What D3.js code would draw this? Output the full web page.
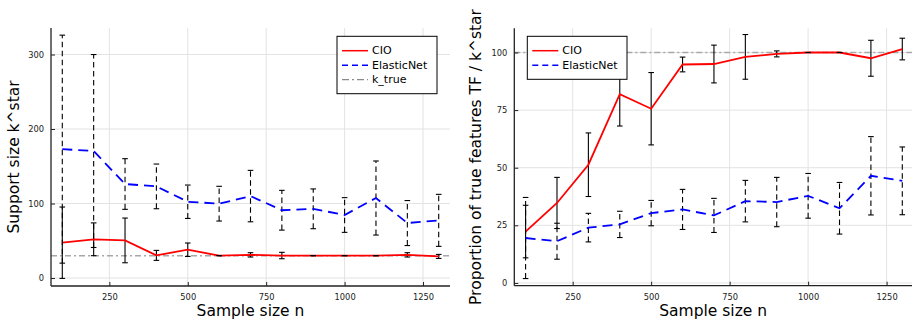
<!DOCTYPE html>
<html>
<head>
<meta charset="utf-8">
<script src="https://cdn.jsdelivr.net/npm/d3@7"></script>
<style>
  body { margin: 0; background: #fff; }
  svg { display: block; font-family: "DejaVu Sans", sans-serif; }
</style>
</head>
<body>
<svg id="chart" width="912" height="323"></svg>
<script>
// ---- data ----
const sampleSizes = [100, 200, 300, 400, 500, 600, 700, 800, 900, 1000, 1100, 1200, 1300];

const supportCIO    = [47.4, 52, 50.5, 30.4, 38, 30, 31.1, 30.2, 30, 30, 30, 31.1, 29];
const supportCIOErr = [47.9, 22, 30, 6.7, 9, 0, 2.9, 4.3, 0, 0, 0, 2.9, 2.7];
const supportEN     = [173, 170.5, 126.2, 123, 102.4, 99.8, 110, 91, 92.9, 84.6, 107.4, 73.8, 77.4];
const supportENErr  = [153, 129.5, 34, 30, 22.4, 23.3, 34.5, 26.7, 26.7, 23.3, 49.7, 30.2, 34.9];
const kTrue = 30;

const propCIO    = [22.3, 34.7, 51.3, 81.9, 75.6, 94.8, 95, 98.1, 99.4, 100, 100, 97.5, 101.5];
const propCIOErr = [11.4, 11.1, 13.8, 13.8, 15.7, 3.2, 8.2, 9.7, 1.3, 0, 0, 7.8, 4.7];
const propEN     = [19.5, 18.1, 24, 25.4, 30.3, 31.9, 29.3, 35.5, 35.1, 37.8, 32.4, 46.5, 44.3];
const propENErr  = [17.6, 7.8, 6.2, 5.7, 5.5, 8.7, 7.4, 9, 10.7, 9.7, 11.2, 17, 14.7];
const propTrue = 100;

const xTicks = [250, 500, 750, 1000, 1250];
const supportYTicks = [0, 100, 200, 300];
const propYTicks = [0, 25, 50, 75, 100];

const xLabel = "Sample size n";
const supportYLabel = "Support size k^star";
const propYLabel = "Proportion of true features TF / k^star";

// ---- drawing ----
const svg = d3.select("#chart");
const fmt = d3.format("d");

function drawPanel(cfg) {
  const x = d3.scaleLinear().domain([64, 1336]).range(cfg.xRange);
  const y = d3.scaleLinear().domain(cfg.yDomain).range(cfg.yRange);
  const g = svg.append("g");
  const [x0, x1] = cfg.xRange;
  const [yb, yt] = cfg.yRange;

  // grid
  g.selectAll(".gx").data(xTicks).join("line")
    .attr("x1", d => x(d)).attr("x2", d => x(d)).attr("y1", yb).attr("y2", yt)
    .attr("stroke", "#e3e3e3").attr("stroke-width", 1);
  g.selectAll(".gy").data(cfg.yTicks).join("line")
    .attr("x1", x0).attr("x2", x1).attr("y1", d => y(d)).attr("y2", d => y(d))
    .attr("stroke", "#e3e3e3").attr("stroke-width", 1);

  // reference line
  g.append("line")
    .attr("x1", x0).attr("x2", x1).attr("y1", y(cfg.ref)).attr("y2", y(cfg.ref))
    .attr("stroke", "#a8a8a8").attr("stroke-width", 1.5)
    .attr("stroke-dasharray", "6,3,2,3");

  const line = d3.line().x((d, i) => x(sampleSizes[i])).y(d => y(d));

  cfg.series.forEach(s => {
    // error bars
    const eb = g.append("g");
    eb.selectAll("line").data(s.values).join("line")
      .attr("x1", (d, i) => x(sampleSizes[i])).attr("x2", (d, i) => x(sampleSizes[i]))
      .attr("y1", (d, i) => y(d - s.err[i])).attr("y2", (d, i) => y(d + s.err[i]))
      .attr("stroke", "#000").attr("stroke-width", 1.1)
      .attr("stroke-dasharray", s.dash ? "5.5,3.5" : null);
    // main line
    g.append("path").datum(s.values)
      .attr("d", line).attr("fill", "none")
      .attr("stroke", s.color).attr("stroke-width", 1.8)
      .attr("stroke-dasharray", s.dash ? "10,6" : null);
    // caps
    const caps = [];
    s.values.forEach((d, i) => {
      caps.push({ n: sampleSizes[i], v: d - s.err[i] });
      caps.push({ n: sampleSizes[i], v: d + s.err[i] });
    });
    g.append("g").selectAll("line").data(caps).join("line")
      .attr("x1", d => x(d.n) - 2.8).attr("x2", d => x(d.n) + 2.8)
      .attr("y1", d => y(d.v)).attr("y2", d => y(d.v))
      .attr("stroke", "#000").attr("stroke-width", 1.1);
  });

  // axes
  const ax = g.append("g").attr("transform", `translate(0,${yb})`)
    .call(d3.axisBottom(x).tickValues(xTicks).tickFormat(fmt).tickSizeInner(-4).tickSizeOuter(0).tickPadding(8));
  const ay = g.append("g").attr("transform", `translate(${x0},0)`)
    .call(d3.axisLeft(y).tickValues(cfg.yTicks).tickFormat(fmt).tickSizeInner(-4).tickSizeOuter(0).tickPadding(7));
  [ax, ay].forEach(a => {
    a.select(".domain").attr("stroke", "#222").attr("stroke-width", 1.3);
    a.selectAll(".tick line").attr("stroke", "#222").attr("stroke-width", 1);
    a.selectAll(".tick text").attr("font-size", "8.3px").attr("fill", "#222")
      .attr("font-family", "DejaVu Sans");
  });
  ax.select(".domain").attr("d", `M${x0},0H${x1}`);
  ay.select(".domain").attr("d", `M0,${yb}V${yt}`);

  // axis labels
  g.append("text").attr("x", (x0 + Math.min(x1, 912)) / 2).attr("y", 316)
    .attr("text-anchor", "middle").attr("font-size", "15.5px").attr("fill", "#000")
    .text(xLabel);
  g.append("text")
    .attr("transform", `translate(${cfg.yLabelX},157) rotate(-90)`)
    .attr("text-anchor", "middle").attr("dominant-baseline", "central")
    .attr("font-size", "15.5px").attr("fill", "#000")
    .text(cfg.yLabel);

  // legend
  const L = cfg.legend;
  const lg = g.append("g");
  lg.append("rect").attr("x", L.x).attr("y", L.y).attr("width", L.w).attr("height", L.h)
    .attr("fill", "#fff").attr("stroke", "#000").attr("stroke-width", 1);
  L.items.forEach((it, i) => {
    const yy = L.y + 14.4 + i * 14.5;
    lg.append("line").attr("x1", L.x + 5).attr("x2", L.x + 31).attr("y1", yy).attr("y2", yy)
      .attr("stroke", it.color).attr("stroke-width", it.w)
      .attr("stroke-dasharray", it.dash);
    lg.append("text").attr("x", L.x + 35).attr("y", yy).attr("dominant-baseline", "central")
      .attr("font-size", "11px").attr("fill", "#000").text(it.label);
  });
}

const legendCIO = { label: "CIO", color: "#ff0000", w: 1.5, dash: null };
const legendEN = { label: "ElasticNet", color: "#0000ff", w: 1.5, dash: "6,4" };
const legendK = { label: "k_true", color: "#8a8a8a", w: 1.2, dash: "7,3,2,3" };

drawPanel({
  xRange: [51, 450], yDomain: [-10.7, 335.6], yRange: [286, 28],
  yTicks: supportYTicks, ref: kTrue, yLabel: supportYLabel, yLabelX: 14,
  series: [
    { values: supportCIO, err: supportCIOErr, color: "#ff0000", dash: false },
    { values: supportEN, err: supportENErr, color: "#0000ff", dash: true }
  ],
  legend: { x: 337, y: 36.3, w: 100, h: 57.4, items: [legendCIO, legendEN, legendK] }
});

drawPanel({
  xRange: [514.3, 913.6], yDomain: [-1.2, 110.5], yRange: [285.7, 28.3],
  yTicks: propYTicks, ref: propTrue, yLabel: propYLabel, yLabelX: 476,
  series: [
    { values: propCIO, err: propCIOErr, color: "#ff0000", dash: false },
    { values: propEN, err: propENErr, color: "#0000ff", dash: true }
  ],
  legend: { x: 527.3, y: 36.3, w: 99.7, h: 43, items: [legendCIO, legendEN] }
});
</script>
</body>
</html>
